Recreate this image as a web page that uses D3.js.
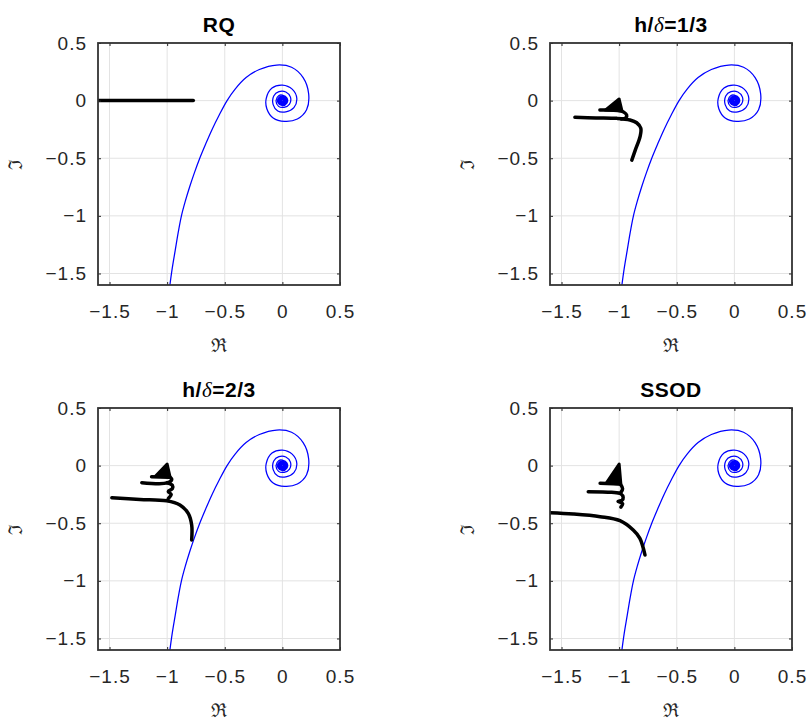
<!DOCTYPE html>
<html>
<head>
<meta charset="utf-8">
<script src="https://cdn.jsdelivr.net/npm/d3@7"></script>
<style>
  body { margin: 0; background: #fff; }
  svg { display: block; font-family: "Liberation Sans", Arial, sans-serif; }
</style>
</head>
<body>
<svg id="canvas" width="808" height="722"></svg>
<script>
// ticks y titulos
const xTicks = [-1.5, -1, -0.5, 0, 0.5];
const yTicks = [0.5, 0, -0.5, -1, -1.5];
const titulos = ["RQ", "h/δ=1/3", "h/δ=2/3", "SSOD"];

// Nyquist (azul): [Re, Im]
const nyquist = [
  [-0.976, -1.6], [-0.955, -1.45], [-0.93, -1.3], [-0.905, -1.15], [-0.876, -1.0],
  [-0.843, -0.875], [-0.805, -0.75], [-0.763, -0.625], [-0.717, -0.5], [-0.665, -0.375],
  [-0.61, -0.25], [-0.548, -0.125], [-0.48, 0], [-0.41, 0.1], [-0.315, 0.2],
  [-0.2, 0.27], [-0.05, 0.309], [0.08, 0.29], [0.18, 0.2], [0.228, 0.06],
  [0.21, -0.08], [0.13, -0.16], [0.02, -0.18], [-0.08, -0.15], [-0.135, -0.07],
  [-0.14, 0.02], [-0.09, 0.11], [0.0, 0.135], [0.085, 0.1], [0.125, 0.02],
  [0.1, -0.06], [0.03, -0.097], [-0.04, -0.09], [-0.08, -0.035], [-0.075, 0.04],
  [-0.03, 0.078], [0.03, 0.075], [0.07, 0.03], [0.062, -0.03], [0.015, -0.058],
  [-0.033, -0.05], [-0.055, 0.0], [-0.03, 0.045],
  [0, 0.048], [0.04, 0.023], [0.039, -0.023], [0, -0.044], [-0.037, -0.021], [-0.036, 0.02],
  [0, 0.041], [0.034, 0.019], [0.033, -0.019], [0, -0.037], [-0.031, -0.017], [-0.03, 0.017],
  [0, 0.034], [0.028, 0.016], [0.027, -0.016], [0, -0.03], [-0.025, -0.014], [-0.024, 0.014],
  [0, 0.026], [0.021, 0.012], [0.02, -0.012], [0, -0.022], [-0.018, -0.01], [-0.017, 0.01],
  [0, 0.018], [0.014, 0.008], [0.013, -0.008], [0, -0.014], [-0.011, -0.006], [-0.01, 0.006],
  [0, 0.01], [0.007, 0.004], [0.006, -0.004], [0, -0.006], [-0.004, -0.002], [0, 0]
];

// curvas negras: trazos
const negroRQ = [
  [[-1.6, 0], [-0.773, 0]]
];
const negro13 = [
  [[-1.384, -0.145], [-1.2, -0.15], [-1.02, -0.154], [-0.906, -0.168], [-0.848, -0.192],
   [-0.812, -0.24], [-0.818, -0.31], [-0.86, -0.43], [-0.89, -0.516]],
  [[-1.167, -0.082], [-1.0, -0.085], [-0.96, -0.1], [-0.935, -0.125], [-0.94, -0.148], [-0.98, -0.16]]
];
const negro23 = [
  [[-1.48, -0.279], [-1.236, -0.293], [-1.004, -0.305], [-0.889, -0.342], [-0.817, -0.414],
   [-0.787, -0.516], [-0.787, -0.645]],
  [[-1.135, -0.096], [-0.985, -0.1]],
  [[-1.22, -0.148], [-1.0, -0.15], [-0.96, -0.12], [-0.975, -0.1]],
  [[-1.0, -0.15], [-0.955, -0.17], [-0.955, -0.2], [-0.99, -0.225],
   [-0.965, -0.25], [-0.99, -0.285]]
];
const negroSSOD = [
  [[-1.6, -0.409], [-1.398, -0.42], [-1.165, -0.443], [-0.993, -0.478], [-0.878, -0.559],
   [-0.82, -0.631], [-0.776, -0.775]],
  [[-1.165, -0.154], [-0.99, -0.16]],
  [[-1.268, -0.226], [-1.065, -0.232], [-0.985, -0.245], [-0.965, -0.275], [-0.975, -0.3],
   [-1.01, -0.31], [-0.97, -0.33], [-0.985, -0.36]],
  [[-0.99, -0.16], [-0.97, -0.2], [-0.985, -0.232]]
];
const negros = [negroRQ, negro13, negro23, negroSSOD];

// cuñas rellenas (triángulos negros)
const cunaRQ = [];
const cuna13 = [[[-1.12, -0.082], [-1.0, 0.014], [-0.975, -0.09]]];
const cuna23 = [[[-1.1, -0.09], [-1.0, 0.014], [-0.975, -0.097]]];
const cunaSSOD = [[[-1.11, -0.15], [-1.0, 0.014], [-0.985, -0.16]]];
const cunas = [cunaRQ, cuna13, cuna23, cunaSSOD];

const svg = d3.select("#canvas");
const lado = 242;
const origenes = [[98, 43], [550, 43], [98, 408], [550, 408]];
const colorTexto = "#262626";

origenes.forEach(([ox, oy], i) => {
    const x = d3.scaleLinear().domain([-1.6, 0.5]).range([ox, ox + lado]);
    const y = d3.scaleLinear().domain([-1.6, 0.5]).range([oy + lado, oy]);
    const g = svg.append("g");

    // rejilla
    g.selectAll(".gx").data(xTicks).enter().append("line")
        .attr("x1", d => x(d)).attr("x2", d => x(d))
        .attr("y1", oy).attr("y2", oy + lado)
        .attr("stroke", "#e3e3e3").attr("stroke-width", 1);
    g.selectAll(".gy").data(yTicks).enter().append("line")
        .attr("y1", d => y(d)).attr("y2", d => y(d))
        .attr("x1", ox).attr("x2", ox + lado)
        .attr("stroke", "#e3e3e3").attr("stroke-width", 1);

    // curvas
    const linea = d3.line().x(d => x(d[0])).y(d => y(d[1]))
        .curve(d3.curveCatmullRom.alpha(0.5));
    const poligono = d3.line().x(d => x(d[0])).y(d => y(d[1]))
        .curve(d3.curveLinearClosed);
    const clipId = "clip" + i;
    svg.append("clipPath").attr("id", clipId).append("rect")
        .attr("x", ox).attr("y", oy).attr("width", lado).attr("height", lado);
    const cg = g.append("g").attr("clip-path", `url(#${clipId})`);

    cg.append("path").attr("d", linea(nyquist))
        .attr("fill", "none").attr("stroke", "#0000ff").attr("stroke-width", 1.25);

    negros[i].forEach(seg => {
        cg.append("path").attr("d", linea(seg))
            .attr("fill", "none").attr("stroke", "#000")
            .attr("stroke-width", 3.5).attr("stroke-linecap", "round")
            .attr("stroke-linejoin", "round");
    });
    cunas[i].forEach(tri => {
        cg.append("path").attr("d", poligono(tri))
            .attr("fill", "#000").attr("stroke", "#000")
            .attr("stroke-width", 3).attr("stroke-linejoin", "round");
    });

    // ejes
    const ejeX = d3.axisBottom(x).tickValues(xTicks).tickSize(-3).tickPadding(20)
        .tickFormat(d3.format("~g"));
    const ejeY = d3.axisLeft(y).tickValues(yTicks).tickSize(-3).tickPadding(11)
        .tickFormat(d3.format("~g"));
    const ejeXTop = d3.axisTop(x).tickValues(xTicks).tickSize(-3).tickFormat("");
    const ejeYRight = d3.axisRight(y).tickValues(yTicks).tickSize(-3).tickFormat("");

    [[ejeX, `translate(0,${oy + lado})`], [ejeY, `translate(${ox},0)`],
     [ejeXTop, `translate(0,${oy})`], [ejeYRight, `translate(${ox + lado},0)`]]
        .forEach(([eje, t]) => {
            const a = g.append("g").attr("transform", t).call(eje);
            a.select(".domain").remove();
            a.selectAll("line").attr("stroke", colorTexto);
            a.selectAll("text").attr("fill", colorTexto)
                .style("font-size", "19px").style("letter-spacing", "1px")
                .style("font-family", "'Liberation Sans', Arial, sans-serif");
        });

    g.append("rect").attr("x", ox).attr("y", oy).attr("width", lado).attr("height", lado)
        .attr("fill", "none").attr("stroke", "#333").attr("stroke-width", 1.8);

    // titulo
    const t = g.append("text").attr("x", ox + lado / 2).attr("y", oy - 11)
        .attr("text-anchor", "middle").attr("fill", "#000")
        .style("font-size", "21px").style("font-weight", "bold")
        .style("letter-spacing", "0.5px");
    const partes = titulos[i].split("δ");
    if (partes.length > 1) {
        t.append("tspan").text(partes[0]);
        t.append("tspan").text("δ").style("font-style", "italic")
            .style("font-weight", "normal").style("font-family", "'Liberation Serif', serif");
        t.append("tspan").text(partes[1]);
    } else {
        t.text(titulos[i]);
    }

    // etiquetas de ejes
    g.append("text").attr("x", ox + lado / 2).attr("y", oy + lado + 67)
        .attr("text-anchor", "middle").attr("fill", colorTexto)
        .style("font-size", "19px").style("font-family", "'DejaVu Serif', serif")
        .text("ℜ");
    g.append("text")
        .attr("transform", `translate(${ox - 76},${oy + lado / 2}) rotate(-90)`)
        .attr("text-anchor", "middle").attr("fill", colorTexto)
        .style("font-size", "19px").style("font-family", "'DejaVu Serif', serif")
        .text("ℑ");
});
</script>
</body>
</html>
